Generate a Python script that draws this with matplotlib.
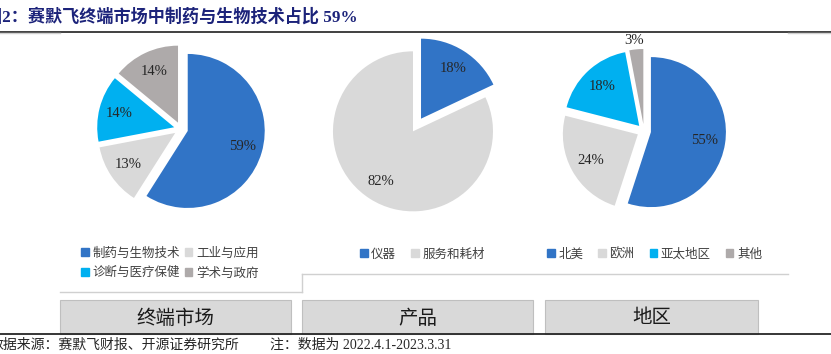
import matplotlib
matplotlib.use("Agg")
import matplotlib.pyplot as plt
from matplotlib.patches import Patch, Rectangle
from matplotlib.lines import Line2D
import numpy as np

plt.rcParams['font.family'] = ['Noto Sans CJK SC', 'DejaVu Sans']

# data
market_labels = ["制药与生物技术", "工业与应用", "诊断与医疗保健", "学术与政府"]
market_vals = [59, 13, 14, 14]
product_labels = ["仪器", "服务和耗材"]
product_vals = [18, 82]
region_labels = ["北美", "欧洲", "亚太地区", "其他"]
region_vals = [55, 24, 18, 3]
box_titles = ["终端市场", "产品", "地区"]

BLUE = "#3174c6"
LGRAY = "#d9d9d9"
CYAN = "#00b0f0"
DGRAY = "#aeaaaa"

W, H = 831, 354
fig = plt.figure(figsize=(W / 100, H / 100), dpi=100)


def fx(x):
    return x / W


def fy(y):
    return 1 - y / H


def pie_axes(cx, cy, s=100):
    ax = fig.add_axes([fx(cx - s), fy(cy + s), 2 * s / W, 2 * s / H])
    ax.set_xlim(-s, s)
    ax.set_ylim(-s, s)
    ax.axis("off")
    return ax


pct_font = dict(family=["Liberation Serif", "DejaVu Serif"], size=10.5, color="#262626")
pct_fmt = lambda p: f"{p:.0f}%"

# pie 1: end market
ax1 = pie_axes(181, 129)
w1, t1, a1 = ax1.pie(market_vals, colors=[BLUE, LGRAY, CYAN, DGRAY], radius=77,
                     explode=[7] * 4, startangle=90, counterclock=False,
                     autopct=pct_fmt, pctdistance=0.74, textprops=pct_font,
                     wedgeprops=dict(linewidth=0))
ax1.set_xlim(-100, 100); ax1.set_ylim(-100, 100)

# pie 2: product
ax2 = pie_axes(417, 125)
w2, t2, a2 = ax2.pie(product_vals, colors=[BLUE, LGRAY], radius=80,
                     explode=[7.5] * 2, startangle=90, counterclock=False,
                     autopct=pct_fmt, pctdistance=0.75, textprops=pct_font,
                     wedgeprops=dict(linewidth=0))
ax2.set_xlim(-100, 100); ax2.set_ylim(-100, 100)

# pie 3: region
ax3 = pie_axes(644, 131)
w3, t3, a3 = ax3.pie(region_vals, colors=[BLUE, LGRAY, CYAN, DGRAY], radius=75,
                     explode=[7] * 4, startangle=90, counterclock=False,
                     autopct=pct_fmt, pctdistance=0.72, textprops=pct_font,
                     wedgeprops=dict(linewidth=0))
ax3.set_xlim(-100, 100); ax3.set_ylim(-100, 100)
# small slice label sits outside
wd = w3[3]
th = np.deg2rad((wd.theta1 + wd.theta2) / 2)
a3[3].set_position((wd.center[0] + 1.12 * wd.r * np.cos(th) - 1,
                    wd.center[1] + 1.12 * wd.r * np.sin(th)))

# legends
leg_kw = dict(frameon=False, fontsize=9, labelcolor="#404040", handlelength=0.6,
              handleheight=0.6, handletextpad=0.3, borderpad=0, borderaxespad=0,
              loc="center left")
m_cols = [BLUE, LGRAY, CYAN, DGRAY]
order = [0, 2, 1, 3]  # fill legend row by row
fig.legend([Patch(color=m_cols[i]) for i in order], [market_labels[i] for i in order],
           ncol=2, columnspacing=0.4, labelspacing=0.55,
           bbox_to_anchor=(fx(81), fy(263)), **leg_kw)
fig.legend([Patch(color=c) for c in [BLUE, LGRAY]], product_labels,
           ncol=2, columnspacing=1.2, bbox_to_anchor=(fx(360), fy(254)), **leg_kw)
fig.legend([Patch(color=c) for c in [BLUE, LGRAY, CYAN, DGRAY]], region_labels,
           ncol=4, columnspacing=1.2, bbox_to_anchor=(fx(547), fy(254)), **leg_kw)


def hline(x0, x1, y, color, lw):
    fig.add_artist(Line2D([fx(x0), fx(x1)], [fy(y), fy(y)], color=color, lw=lw,
                          transform=fig.transFigure))


def vline(x, y0, y1, color, lw):
    fig.add_artist(Line2D([fx(x), fx(x)], [fy(y0), fy(y1)], color=color, lw=lw,
                          transform=fig.transFigure))


# title (left edge is cropped in the original)
fig.text(fx(-15), fy(17), "图2：赛默飞终端市场中制药与生物技术占比 59%",
         family=["Liberation Serif", "Noto Sans CJK SC"], weight="bold",
         fontsize=12.3, color="#1c237a", va="center", ha="left")
hline(0, 831, 31.5, "#404040", 1.4)
hline(0, 60, 33, "#d0d0d0", 1.0)
hline(788, 831, 33, "#d0d0d0", 1.0)

# frame lines around the legend area
hline(60, 302, 292, "#d0d0d0", 1.0)
vline(302, 274, 292, "#d0d0d0", 1.0)
hline(302, 788, 274, "#d0d0d0", 1.0)

# bottom boxes
boxes = [(60, 291), (302, 533), (545, 758)]
for (x0, x1), name in zip(boxes, box_titles):
    fig.add_artist(Rectangle((fx(x0), fy(334)), fx(x1 - x0), 34 / H,
                             facecolor=LGRAY, edgecolor="#bfbfbf", lw=0.8,
                             transform=fig.transFigure))
    fig.text(fx((x0 + x1) / 2), fy(318), name, fontsize=14, color="#1a1a1a",
             ha="center", va="center")
hline(0, 831, 334, "#262626", 1.3)

# source note (left edge is cropped in the original)
src_font = dict(family=["Liberation Serif", "Noto Sans CJK SC"], fontsize=10,
                color="#262626", va="center", ha="left")
fig.text(fx(-11), fy(345), "数据来源：赛默飞财报、开源证券研究所", **src_font)
fig.text(fx(270), fy(345), "注：数据为 2022.4.1-2023.3.31", **src_font)

fig.savefig("out.png", dpi=100)
